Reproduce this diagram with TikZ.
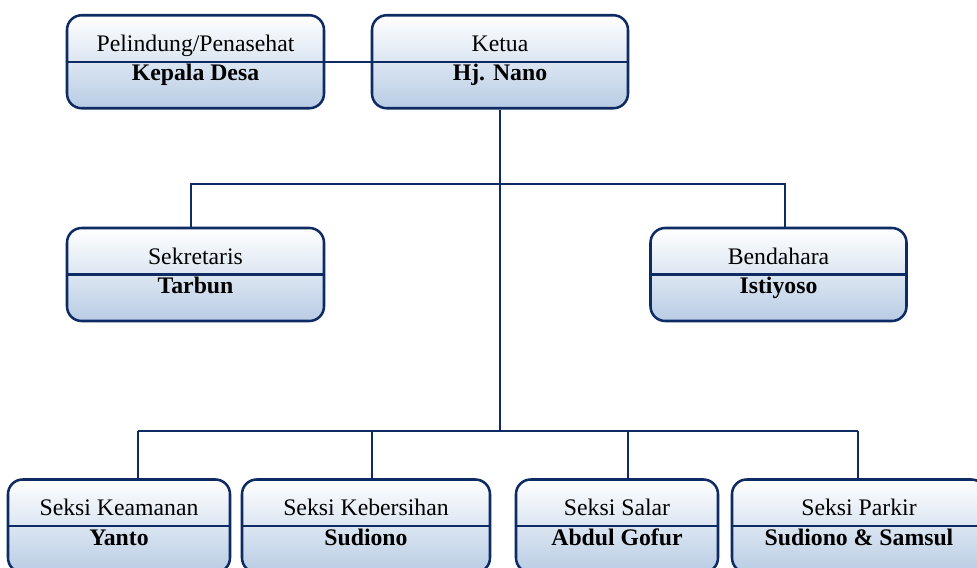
\documentclass[tikz,border=0pt]{standalone}
\usepackage{fontspec}
\setmainfont{Liberation Serif}
\usepackage{xcolor}
\usetikzlibrary{calc,positioning}
\definecolor{navy}{HTML}{0F2B64}
\definecolor{boxblue}{HTML}{B8CCE4}

\begin{document}
\begin{tikzpicture}[
    x=0.75pt, y=-0.75pt,
    unit/.style={shape=rectangle, draw=navy, line width=1.9pt, rounded corners=11pt, top color=white, bottom color=boxblue, minimum height=69.75pt, inner sep=0pt},
    role/.style={anchor=base, inner sep=0pt, font=\fontsize{17.8}{21}\selectfont},
    person/.style={anchor=base, inner sep=0pt, font=\fontsize{17.8}{21}\selectfont\bfseries},
    link/.style={draw=navy, line width=1.8pt}
]
    \useasboundingbox (0,0) rectangle (977,567);

    % Boxes
    \node[unit, minimum width=192.75pt] (Pelindung) at (195.5, 61.75) {};
    \node[unit, minimum width=192pt] (Ketua) at (500, 61.75) {};
    \node[unit, minimum width=192.75pt] (Sekretaris) at (195.5, 274.5) {};
    \node[unit, minimum width=192pt] (Bendahara) at (778.5, 274.5) {};
    \node[unit, minimum width=166.5pt] (Keamanan) at (119, 526) {};
    \node[unit, minimum width=186pt] (Kebersihan) at (366, 526) {};
    \node[unit, minimum width=151.5pt] (Salar) at (617, 526) {};
    \node[unit, minimum width=190.5pt] (Parkir) at (859, 526) {};

    % Dividers
    \draw[link] (Pelindung.west) -- (Pelindung.east);
    \draw[link] (Ketua.west) -- (Ketua.east);
    \draw[link] (Sekretaris.west) -- (Sekretaris.east);
    \draw[link] (Bendahara.west) -- (Bendahara.east);
    \draw[link] (Keamanan.west) -- (Keamanan.east);
    \draw[link] (Kebersihan.west) -- (Kebersihan.east);
    \draw[link] (Salar.west) -- (Salar.east);
    \draw[link] (Parkir.west) -- (Parkir.east);

    % Texts
    \node[role] (PelindungR) at ($(Pelindung)+(0,-10.5)$) {Pelindung/Penasehat};
    \node[person] (PelindungP) at ($(Pelindung)+(0,19)$) {Kepala Desa};
    \node[role] (KetuaR) at ($(Ketua)+(0,-10.5)$) {Ketua};
    \node[person] (KetuaP) at ($(Ketua)+(0,19)$) {Hj. Nano};
    \node[role] (SekretarisR) at ($(Sekretaris)+(0,-10.5)$) {Sekretaris};
    \node[person] (SekretarisP) at ($(Sekretaris)+(0,19)$) {Tarbun};
    \node[role] (BendaharaR) at ($(Bendahara)+(0,-10.5)$) {Bendahara};
    \node[person] (BendaharaP) at ($(Bendahara)+(0,19)$) {Istiyoso};
    \node[role] (KeamananR) at ($(Keamanan)+(0,-10.5)$) {Seksi Keamanan};
    \node[person] (KeamananP) at ($(Keamanan)+(0,19)$) {Yanto};
    \node[role] (KebersihanR) at ($(Kebersihan)+(0,-10.5)$) {Seksi Kebersihan};
    \node[person] (KebersihanP) at ($(Kebersihan)+(0,19)$) {Sudiono};
    \node[role] (SalarR) at ($(Salar)+(0,-10.5)$) {Seksi Salar};
    \node[person] (SalarP) at ($(Salar)+(0,19)$) {Abdul Gofur};
    \node[role] (ParkirR) at ($(Parkir)+(0,-10.5)$) {Seksi Parkir};
    \node[person] (ParkirP) at ($(Parkir)+(0,19)$) {Sudiono \& Samsul};

    % Bus points
    \coordinate (UpL) at (191, 184);
    \coordinate (UpR) at (785, 184);
    \coordinate (Low1) at (138, 431);
    \coordinate (Low2) at (372, 431);
    \coordinate (Low3) at (628, 431);
    \coordinate (Low4) at (858, 431);

    % Connections
    \draw[link] (Pelindung.east) -- (Ketua.west);
    \draw[link] (Ketua.south) -- (Ketua.south |- Low1);
    \draw[link] (UpL |- Sekretaris.north) -- (UpL) -- (UpR) -- (UpR |- Bendahara.north);
    \draw[link] (Low1) -- (Low4);
    \draw[link] (Low1) -- (Low1 |- Keamanan.north);
    \draw[link] (Low2) -- (Low2 |- Kebersihan.north);
    \draw[link] (Low3) -- (Low3 |- Salar.north);
    \draw[link] (Low4) -- (Low4 |- Parkir.north);

\end{tikzpicture}
\end{document}
